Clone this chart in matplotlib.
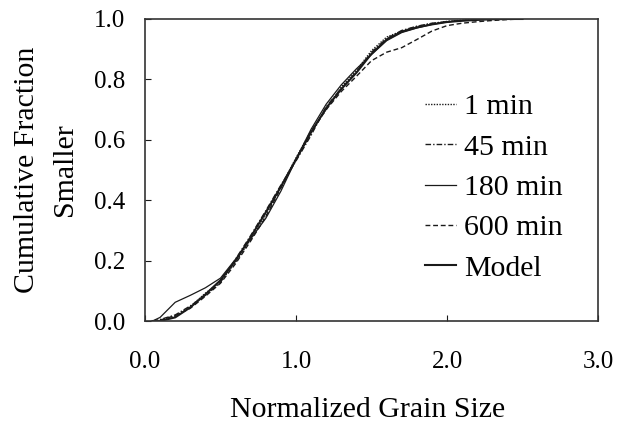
"""Cumulative grain size distributions vs. model."""
import matplotlib
matplotlib.use("Agg")
import matplotlib.pyplot as plt

plt.rcParams["font.family"] = ["Liberation Serif", "DejaVu Serif"]

# normalized grain size grid (shared by every curve)
grain_size = [0.05, 0.1, 0.2, 0.3, 0.4, 0.5, 0.6, 0.7, 0.8, 0.9, 1.0, 1.1, 1.2,
              1.3, 1.4, 1.5, 1.6, 1.7, 1.8, 1.9, 2.0, 2.1, 2.2, 2.3, 2.4, 2.5]

frac_1min = [0.000, 0.002, 0.015, 0.048, 0.092, 0.130, 0.195, 0.270, 0.350, 0.445,
             0.540, 0.630, 0.700, 0.775, 0.830, 0.895, 0.940, 0.960, 0.975, 0.985,
             0.992, 0.996, 0.998, 1.000, 1.000, 1.000]
frac_45min = [0.000, 0.005, 0.020, 0.050, 0.085, 0.128, 0.205, 0.283, 0.365, 0.450,
              0.530, 0.615, 0.710, 0.770, 0.825, 0.890, 0.935, 0.962, 0.976, 0.986,
              0.991, 0.995, 0.998, 1.000, 1.000, 1.000]
frac_180min = [0.000, 0.012, 0.062, 0.085, 0.110, 0.142, 0.205, 0.272, 0.340, 0.430,
               0.535, 0.635, 0.718, 0.782, 0.835, 0.882, 0.928, 0.955, 0.970, 0.982,
               0.990, 0.995, 0.998, 1.000, 1.000, 1.000]
frac_600min = [0.000, 0.003, 0.018, 0.042, 0.082, 0.125, 0.190, 0.265, 0.345, 0.440,
               0.535, 0.625, 0.700, 0.760, 0.810, 0.862, 0.890, 0.905, 0.932, 0.960,
               0.978, 0.986, 0.991, 0.995, 0.998, 1.000]
frac_model = [0.000, 0.000, 0.012, 0.045, 0.088, 0.135, 0.200, 0.278, 0.360, 0.445,
              0.535, 0.625, 0.705, 0.768, 0.822, 0.885, 0.932, 0.958, 0.972, 0.982,
              0.990, 0.994, 0.997, 0.999, 1.000, 1.000]

labels = ["1 min", "45 min", "180 min", "600 min", "Model"]

x_ticks = [0.0, 1.0, 2.0, 3.0]
y_ticks = [0.0, 0.2, 0.4, 0.6, 0.8, 1.0]

INK = "#1a1a1a"
W, H = 626, 421

fig = plt.figure(figsize=(W / 100, H / 100), dpi=100)
ax = fig.add_axes([0.2316, 0.2375, 0.7237, 0.7174])

series = [frac_1min, frac_45min, frac_180min, frac_600min, frac_model]
styles = [
    dict(linestyle=(0, (1, 1)), lw=1.0),
    dict(linestyle=(0, (4, 1.5, 1, 1.5)), lw=1.0),
    dict(linestyle="-", lw=0.9),
    dict(linestyle=(0, (3.5, 2)), lw=1.0),
    dict(linestyle="-", lw=1.5),
]
for ys, lab, st in zip(series, labels, styles):
    ax.plot(grain_size, ys, color=INK, label=lab, **st)

ax.set_xlim(0, 3)
ax.set_ylim(0, 1)
ax.set_xticks(x_ticks)
ax.set_yticks(y_ticks)
ax.set_xticklabels([f"{v:.1f}" for v in x_ticks])
ax.set_yticklabels([f"{v:.1f}" for v in y_ticks])
ax.tick_params(direction="in", length=4, width=0.8, colors=INK,
               labelsize=18, labelcolor="black")
ax.tick_params(axis="x", pad=21.5)
ax.tick_params(axis="y", pad=14.4)
for s in ax.spines.values():
    s.set_linewidth(1.2)
    s.set_color("#333333")

ax.set_xlabel("Normalized Grain Size", fontsize=21.5)
ax.xaxis.set_label_coords(0.492, -0.25)

# y label: two vertical lines, baselines placed at the reference pixel columns
y_mid = 1 - 170 / H
for txt, base_px in [("Cumulative Fraction", 34), ("Smaller", 72)]:
    fig.text(base_px / W, y_mid, txt, rotation=90, rotation_mode="anchor",
             ha="center", va="baseline", fontsize=21.5)

ax.legend(loc="center left", bbox_to_anchor=(0.618, 0.442), frameon=False,
          fontsize=21.5, handlelength=1.05, handletextpad=0.25,
          labelspacing=0.45, borderpad=0, borderaxespad=0)

fig.savefig("out.png", dpi=100)
